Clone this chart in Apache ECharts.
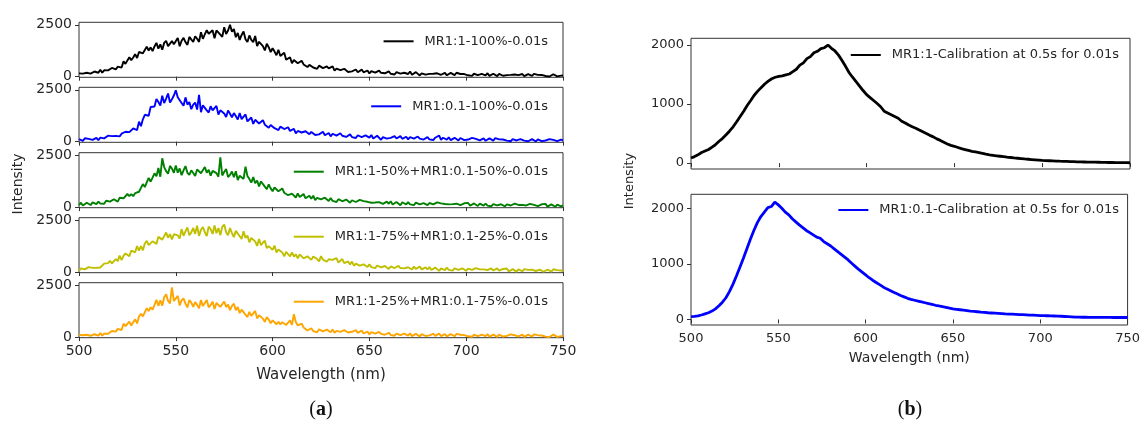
<!DOCTYPE html>
<html>
<head>
<meta charset="utf-8">
<script src="https://cdn.jsdelivr.net/npm/echarts@6/dist/echarts.min.js"></script>
<style>
  html, body { margin: 0; padding: 0; background: #ffffff; }
  #chart { width: 1143px; height: 430px; }
</style>
</head>
<body>
<div id="chart"></div>
<script>
// (a) single-acquisition spectra, 0.01 s: sampled every 1 nm, 500-750 nm (251 points, 10 nm per row)
const A_START = 500;
const A_STEP = 1;

const mr1_100 = [
  160, 68, 148, 64, 190, 233, 148, 131, 249, 202,
  188, 335, 194, 307, 370, 305, 265, 421, 398, 350,
  482, 467, 439, 736, 617, 784, 938, 793, 921, 1088,
  898, 1190, 1284, 1126, 1094, 1440, 1264, 1412, 1236, 1456,
  1628, 1350, 1555, 1298, 1629, 1729, 1472, 1404, 1714, 1562,
  1507, 1868, 1463, 1734, 1870, 1667, 1533, 1916, 1827, 1669,
  1948, 1825, 1677, 2143, 1823, 2044, 2239, 2071, 2017, 2238,
  1847, 2229, 2314, 2021, 1917, 2380, 2060, 2226, 2500, 2164,
  2298, 1904, 2108, 1770, 2010, 2174, 1806, 1672, 1986, 1768,
  1665, 1962, 1477, 1682, 1749, 1471, 1262, 1582, 1419, 1187,
  1372, 1210, 1030, 1300, 994, 1084, 1156, 814, 850, 940,
  643, 801, 816, 649, 573, 770, 590, 644, 464, 570,
  608, 443, 531, 377, 531, 564, 410, 355, 498, 399,
  360, 497, 294, 391, 428, 315, 232, 379, 316, 223,
  316, 257, 189, 346, 215, 282, 340, 211, 231, 298,
  153, 269, 290, 192, 154, 295, 189, 235, 163, 211,
  254, 140, 210, 104, 222, 252, 146, 112, 188, 156,
  130, 248, 94, 180, 218, 136, 58, 164, 146, 96,
  180, 133, 78, 144, 104, 163, 213, 92, 126, 185,
  67, 163, 182, 106, 73, 190, 102, 128, 58, 126,
  166, 67, 129, 37, 141, 168, 76, 48, 134, 87,
  67, 164, 39, 110, 142, 75, 29, 132, 99, 45,
  116, 76, 29, 86, 53, 106, 138, 77, 75, 127,
  26, 109, 126, 57, 34, 135, 62, 85, 24, 83,
  118, 33, 86, 7, 96, 119, 170, 15, 98, 49,
  60
];
const mr01_100 = [
  118, 81, 37, 168, 75, 136, 190, 83, 123, 184,
  68, 194, 232, 158, 140, 290, 208, 270, 188, 282,
  360, 257, 384, 291, 478, 555, 462, 459, 636, 593,
  560, 960, 748, 1076, 1296, 1246, 1250, 1668, 1708, 1694,
  2054, 1908, 1736, 2214, 1860, 2078, 2320, 1884, 2044, 2222,
  2480, 2145, 2188, 1867, 1728, 2135, 1788, 1909, 1562, 1787,
  1884, 1546, 2250, 1422, 1751, 1827, 1512, 1404, 1710, 1510,
  1435, 1726, 1303, 1510, 1591, 1357, 1186, 1498, 1349, 1177,
  1376, 1232, 1069, 1381, 1085, 1207, 1310, 976, 1041, 1163,
  856, 1055, 1078, 877, 788, 1035, 818, 889, 672, 807,
  854, 649, 743, 561, 723, 802, 610, 535, 695, 517,
  465, 621, 403, 515, 561, 442, 356, 503, 439, 362,
  470, 401, 322, 403, 354, 385, 476, 307, 347, 419,
  254, 382, 404, 293, 249, 405, 285, 336, 228, 305,
  352, 222, 299, 178, 309, 341, 220, 180, 302, 226,
  197, 321, 155, 245, 284, 194, 91, 221, 217, 144,
  232, 182, 124, 266, 152, 174, 268, 138, 176, 238,
  110, 217, 238, 151, 117, 248, 148, 177, 102, 178,
  220, 113, 179, 79, 190, 218, 300, 86, 189, 127,
  104, 210, 73, 151, 186, 113, 56, 176, 131, 72,
  148, 104, 55, 180, 85, 135, 183, 65, 100, 155,
  44, 138, 157, 82, 53, 168, 85, 111, 39, 106,
  143, 49, 108, 21, 119, 144, 58, 30, 123, 68,
  48, 143, 20, 90, 121, 56, 10, 111, 78, 26,
  95, 57, 12, 123, 35, 84, 126, 26, 56, 104,
  60
];
const mix_50_50 = [
  92, 212, 76, 166, 211, 142, 97, 224, 194, 140,
  268, 165, 258, 163, 307, 357, 262, 244, 379, 327,
  261, 447, 512, 423, 411, 630, 530, 628, 528, 670,
  748, 738, 711, 1109, 963, 1191, 1402, 1222, 1419, 1627,
  1480, 1880, 1464, 2350, 1928, 1728, 1610, 1984, 1854, 1652,
  2002, 1656, 1862, 1540, 1770, 1976, 1654, 1548, 1774, 1642,
  1493, 1815, 1884, 1631, 1539, 1930, 1654, 1792, 1516, 1746,
  1792, 1638, 1461, 2400, 1521, 1689, 1834, 1450, 1549, 1717,
  1435, 1726, 1303, 1510, 1591, 1357, 1950, 1498, 1349, 1177,
  1452, 1146, 1277, 990, 1235, 1271, 984, 868, 1094, 902,
  765, 945, 960, 765, 675, 900, 690, 750, 570, 660,
  648, 561, 462, 663, 480, 561, 630, 423, 468, 549,
  397, 546, 337, 444, 488, 373, 291, 450, 389, 295,
  436, 296, 375, 244, 380, 411, 280, 235, 361, 278,
  209, 329, 350, 245, 203, 350, 256, 284, 188, 254,
  264, 210, 147, 221, 175, 241, 297, 158, 197, 263,
  160, 278, 124, 210, 248, 166, 88, 234, 192, 126,
  242, 131, 199, 96, 211, 240, 133, 104, 187, 146,
  92, 196, 218, 132, 102, 228, 137, 180, 89, 149,
  175, 129, 76, 140, 104, 162, 213, 94, 128, 183,
  94, 200, 63, 141, 176, 103, 52, 166, 122, 66,
  171, 71, 134, 41, 146, 173, 81, 52, 136, 87,
  37, 134, 155, 76, 47, 165, 82, 103, 39, 108,
  120, 78, 31, 151, 55, 108, 155, 47, 81, 135,
  52, 153, 24, 97, 130, 61, 14, 122, 87, 32,
  80
];
const mix_75_25 = [
  62, 175, 204, 128, 105, 240, 157, 202, 126, 208,
  238, 221, 194, 406, 312, 429, 535, 423, 510, 627,
  530, 790, 574, 778, 898, 808, 760, 1034, 1014, 952,
  1252, 1032, 1249, 1048, 1379, 1501, 1300, 1270, 1482, 1476,
  1357, 1697, 1788, 1564, 1498, 1905, 1655, 1830, 1572, 1821,
  1898, 1768, 1613, 2072, 1745, 1959, 2147, 1772, 1911, 2125,
  1840, 2235, 1746, 2037, 2172, 1917, 1740, 2191, 2066, 1838,
  2242, 1876, 2120, 1780, 2183, 2289, 1914, 1778, 2119, 1877,
  1684, 1986, 2024, 1726, 1596, 1970, 1648, 1758, 1436, 1642,
  1640, 1479, 1258, 1597, 1296, 1415, 1514, 1153, 1252, 1331,
  1070, 1279, 944, 1089, 1138, 947, 754, 979, 868, 759,
  952, 742, 854, 658, 854, 896, 660, 590, 760, 686,
  587, 751, 776, 626, 516, 765, 603, 666, 496, 617,
  624, 586, 493, 676, 461, 532, 626, 434, 441, 513,
  370, 508, 306, 404, 442, 310, 248, 376, 314, 242,
  372, 239, 313, 189, 317, 346, 222, 160, 293, 219,
  153, 270, 292, 195, 158, 300, 195, 233, 179, 220,
  232, 181, 122, 263, 148, 170, 262, 131, 168, 229,
  131, 245, 97, 179, 216, 137, 58, 178, 148, 98,
  210, 103, 169, 69, 180, 208, 108, 76, 179, 117,
  64, 165, 184, 102, 72, 193, 103, 131, 60, 131,
  143, 100, 50, 175, 76, 125, 179, 66, 96, 150,
  65, 169, 35, 110, 144, 73, 22, 133, 96, 39,
  141, 45, 105, 15, 114, 140, 52, 24, 117, 61,
  15, 106, 125, 51, 24, 135, 55, 93, 10, 75,
  60
];
const mix_25_75 = [
  114, 30, 90, 25, 114, 146, 63, 41, 136, 91,
  72, 199, 70, 167, 219, 157, 139, 293, 290, 263,
  396, 374, 340, 645, 526, 620, 747, 560, 714, 854,
  658, 988, 1120, 1000, 1006, 1390, 1252, 1438, 1320, 1558,
  1792, 1506, 1772, 1510, 1920, 2066, 1739, 1628, 2400, 1737,
  1652, 1988, 1524, 1766, 1867, 1614, 1429, 1788, 1658, 1452,
  1688, 1551, 1392, 1783, 1492, 1641, 1790, 1433, 1538, 1709,
  1356, 1648, 1702, 1455, 1359, 1715, 1447, 1566, 1298, 1503,
  1610, 1298, 1446, 1154, 1322, 1370, 1078, 966, 1214, 1022,
  1045, 1262, 901, 1050, 1097, 889, 730, 964, 841, 669,
  804, 718, 618, 735, 612, 716, 805, 584, 696, 800,
  592, 1100, 726, 559, 476, 645, 466, 502, 314, 409,
  426, 286, 365, 234, 370, 401, 278, 237, 358, 268,
  236, 368, 201, 298, 342, 254, 192, 333, 289, 218,
  314, 255, 187, 333, 205, 240, 317, 173, 207, 268,
  130, 234, 252, 162, 125, 253, 154, 180, 113, 171,
  209, 102, 164, 64, 171, 197, 96, 63, 162, 99,
  75, 179, 45, 121, 155, 84, 34, 145, 109, 52,
  128, 85, 35, 160, 61, 116, 164, 51, 85, 140,
  29, 123, 142, 67, 38, 153, 70, 110, 28, 95,
  134, 38, 99, 14, 112, 136, 50, 23, 118, 62,
  42, 143, 15, 88, 121, 54, 7, 113, 79, 25,
  99, 59, 11, 130, 37, 90, 136, 29, 62, 115,
  9, 100, 120, 46, 20, 131, 52, 91, 11, 77,
  117, 24, 82, 5, 95, 120, 35, 8, 100, 47,
  60
];

// (b) calibrated spectra, 0.5 s integration scaled to 0.01 s: sampled every 2 nm (126 points)
const B_START = 500;
const B_STEP = 2;

const calib_mr1 = [
  85, 110, 140, 180, 205, 230, 270, 315, 370, 420,
  480, 545, 615, 700, 790, 880, 975, 1060, 1150, 1220,
  1280, 1340, 1390, 1430, 1455, 1470, 1480, 1495, 1510, 1550,
  1590, 1660, 1700, 1770, 1805, 1870, 1895, 1940, 1955, 2000,
  1945, 1900, 1830, 1740, 1640, 1535, 1455, 1380, 1305, 1230,
  1160, 1110, 1060, 1010, 955, 880, 850, 820, 790, 760,
  710, 680, 645, 615, 590, 560, 530, 500, 470, 445,
  410, 385, 355, 325, 300, 285, 265, 245, 230, 215,
  200, 190, 178, 165, 152, 140, 132, 124, 116, 108,
  100, 95, 88, 82, 76, 70, 65, 60, 55, 50,
  45, 42, 40, 38, 35, 32, 30, 28, 26, 24,
  22, 20, 19, 18, 16, 15, 14, 12, 12, 10,
  10, 9, 8, 8, 7, 6
];
const calib_mr01 = [
  50, 55, 65, 80, 100, 120, 150, 190, 245, 310,
  390, 500, 630, 780, 940, 1100, 1270, 1440, 1600, 1740,
  1850, 1930, 2010, 2030, 2110, 2060, 2000, 1930, 1880, 1810,
  1755, 1700, 1650, 1600, 1560, 1520, 1480, 1460, 1400, 1360,
  1320, 1270, 1220, 1170, 1120, 1070, 1010, 955, 900, 850,
  800, 750, 705, 665, 625, 585, 550, 520, 490, 460,
  430, 405, 380, 360, 345, 330, 315, 300, 285, 270,
  255, 242, 230, 218, 205, 190, 182, 174, 166, 158,
  150, 144, 138, 132, 126, 120, 116, 112, 108, 104,
  100, 97, 94, 91, 88, 85, 82, 79, 76, 73,
  70, 68, 66, 64, 62, 60, 57, 53, 49, 45,
  40, 40, 39, 39, 38, 38, 37, 37, 36, 36,
  36, 35, 35, 35, 35, 35
];

// Tick values
const xTicks = [500, 550, 600, 650, 700, 750];
const yTicksA = [0, 2500];
const yTicksB = [0, 1000, 2000];

// Panel layout and styling
const FONT = 'DejaVu Sans';
const TEXT = '#262626';
const FRAME = '#333333';

const panelsA = [
  { name: 'MR1:1-100%-0.01s', values: mr1_100, color: '#000000', top: 22.3 },
  { name: 'MR1:0.1-100%-0.01s', values: mr01_100, color: '#0000ff', top: 87.3 },
  { name: 'MR1:1-50%+MR1:0.1-50%-0.01s', values: mix_50_50, color: '#008000', top: 152.7 },
  { name: 'MR1:1-75%+MR1:0.1-25%-0.01s', values: mix_75_25, color: '#bfbf00', top: 217.7 },
  { name: 'MR1:1-25%+MR1:0.1-75%-0.01s', values: mix_25_75, color: '#ffa500', top: 282.7 }
];
const panelsB = [
  { name: 'MR1:1-Calibration at 0.5s for 0.01s', values: calib_mr1, color: '#000000', top: 38.3, min: -100, max: 2115, legendTop: 48.5 },
  { name: 'MR1:0.1-Calibration at 0.5s for 0.01s', values: calib_mr01, color: '#0000ff', top: 194.3, min: -100, max: 2250, legendTop: 203.5 }
];

const toPairs = (vals, start, step) => vals.map((v, i) => [start + i * step, v]);
const plainNumber = v => String(v);

const grid = [], xAxis = [], yAxis = [], series = [], legend = [];

function addPanel(p, idx, box, yOpts, sampling, isLast, lineWidth, legendPos, tickFont) {
  grid.push({
    left: box.left, top: p.top, width: box.width, height: box.height,
    show: true, borderColor: FRAME, borderWidth: 1, backgroundColor: 'transparent'
  });
  xAxis.push({
    type: 'value', gridIndex: idx, min: 500, max: 750, interval: 50,
    axisLine: { show: false },
    axisTick: { show: true, length: 4, customValues: xTicks, lineStyle: { color: FRAME, width: 1 } },
    axisLabel: { show: isLast, customValues: xTicks, formatter: plainNumber, fontFamily: FONT, fontSize: tickFont, color: TEXT, margin: 7 },
    splitLine: { show: false },
    name: isLast ? 'Wavelength (nm)' : '',
    nameLocation: 'middle',
    nameGap: box.nameGap,
    nameTextStyle: { fontFamily: FONT, fontSize: box.nameFont, color: TEXT }
  });
  yAxis.push({
    type: 'value', gridIndex: idx, min: yOpts.min, max: yOpts.max,
    axisLine: { show: false },
    axisTick: { show: true, length: 4, customValues: yOpts.ticks, lineStyle: { color: FRAME, width: 1 } },
    axisLabel: { show: true, customValues: yOpts.ticks, formatter: plainNumber, fontFamily: FONT, fontSize: tickFont, color: TEXT, margin: 7 },
    splitLine: { show: false }
  });
  series.push({
    name: p.name, type: 'line', xAxisIndex: idx, yAxisIndex: idx,
    data: toPairs(p.values, sampling.start, sampling.step), showSymbol: false, symbol: 'none',
    lineStyle: { color: p.color, width: lineWidth }, itemStyle: { color: p.color },
    silent: true, animation: false
  });
  legend.push({
    data: [p.name], right: legendPos.right, top: legendPos.top,
    icon: 'rect', itemWidth: 30, itemHeight: 2, padding: 0, itemGap: 0,
    selectedMode: false,
    textStyle: { fontFamily: FONT, fontSize: 13, color: TEXT, padding: [0, 0, 0, 6] }
  });
}

panelsA.forEach((p, i) => {
  addPanel(p, i,
    { left: 79, width: 484, height: 55, nameGap: 30, nameFont: 15 },
    { min: -30, max: 2620, ticks: yTicksA },
    { start: A_START, step: A_STEP },
    i === panelsA.length - 1, 1.9,
    { right: 595, top: p.top + 12.5 }, 14);
});
panelsB.forEach((p, j) => {
  addPanel(p, panelsA.length + j,
    { left: 691, width: 439, height: 130.7, nameGap: 26, nameFont: 14 },
    { min: p.min, max: p.max, ticks: yTicksB },
    { start: B_START, step: B_STEP },
    j === panelsB.length - 1, 2.8,
    { right: 24, top: p.legendTop }, 13);
});

const chart = echarts.init(document.getElementById('chart'), null, { renderer: 'canvas' });
chart.setOption({
  animation: false,
  backgroundColor: '#ffffff',
  grid, xAxis, yAxis, series, legend,
  graphic: [
    { type: 'text', x: 18, y: 184, rotation: Math.PI / 2, originX: 0, originY: 0,
      style: { text: 'Intensity', fontFamily: FONT, fontSize: 14, fill: TEXT, align: 'center', verticalAlign: 'middle' } },
    { type: 'text', x: 630, y: 181, rotation: Math.PI / 2, originX: 0, originY: 0,
      style: { text: 'Intensity', fontFamily: FONT, fontSize: 13, fill: TEXT, align: 'center', verticalAlign: 'middle' } },
    { type: 'text', x: 321, y: 410,
      style: { text: '({b|a})', fontFamily: 'Liberation Serif', fontSize: 20, fill: '#111', align: 'center', verticalAlign: 'middle',
        rich: { b: { fontFamily: 'Liberation Serif', fontSize: 20, fontWeight: 'bold', fill: '#111' } } } },
    { type: 'text', x: 910, y: 410,
      style: { text: '({b|b})', fontFamily: 'Liberation Serif', fontSize: 20, fill: '#111', align: 'center', verticalAlign: 'middle',
        rich: { b: { fontFamily: 'Liberation Serif', fontSize: 20, fontWeight: 'bold', fill: '#111' } } } }
  ]
});
</script>
</body>
</html>
